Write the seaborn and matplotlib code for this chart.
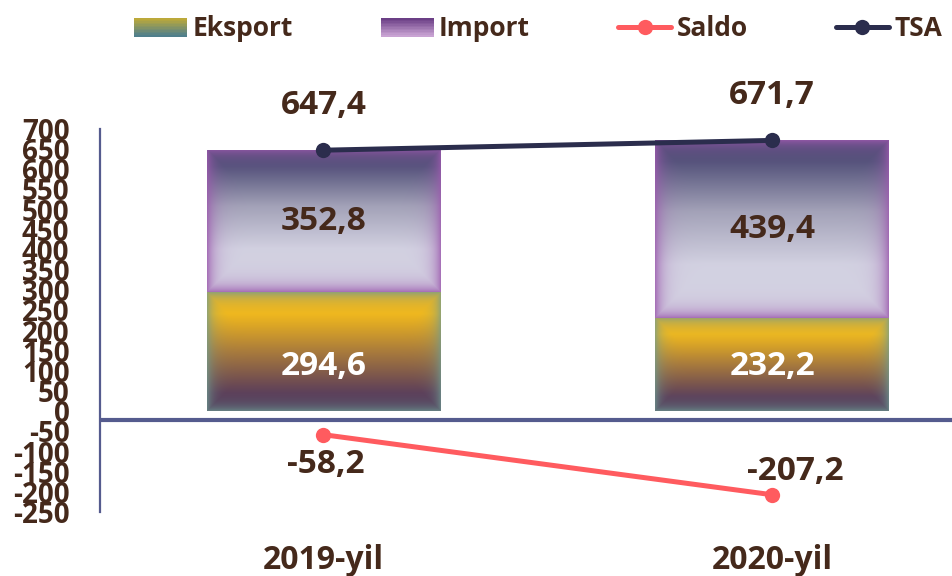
import numpy as np
import pandas as pd
import matplotlib
matplotlib.use("Agg")
import matplotlib.pyplot as plt
import matplotlib.colors as mcolors
from matplotlib.patches import Rectangle
from matplotlib.lines import Line2D
from matplotlib.legend_handler import HandlerBase
import seaborn as sns

# data
years = ["2019-yil", "2020-yil"]
eksport = [294.6, 232.2]
importv = [352.8, 439.4]
saldo = [-58.2, -207.2]
tsa = [647.4, 671.7]

TXT = "#45291B"
AXC = "#555B8E"

sns.set_style("white")
plt.rcParams["font.family"] = ["Open Sans", "DejaVu Sans"]
plt.rcParams["font.weight"] = "bold"
plt.rcParams["axes.unicode_minus"] = False


def to_rgb_arr(cols):
    return np.array([mcolors.to_rgb(c) for c in cols])


def grad_img(stops, edge, w_px, h_px, spread=7.0, strength=0.75):
    pos = np.array([s[0] for s in stops])
    cols = to_rgb_arr([s[1] for s in stops])
    t = np.linspace(0, 1, h_px)
    col = np.stack([np.interp(t, pos, cols[:, k]) for k in range(3)], axis=1)
    img = np.repeat(col[:, None, :], w_px, axis=1)
    yy, xx = np.indices((h_px, w_px))
    d = np.minimum.reduce([xx, w_px - 1 - xx, yy, h_px - 1 - yy]).astype(float)
    wgt = strength * np.exp(-d / spread)
    e = np.array(mcolors.to_rgb(edge))
    return img * (1 - wgt[..., None]) + e * wgt[..., None]


eks_stops = [(0.0, "#4E3458"), (0.15, "#5C3C58"), (0.5, "#A97B3C"),
             (0.82, "#F3B91B"), (1.0, "#EDB522")]
imp_stops = [(0.0, "#D6D5E4"), (0.3, "#D2D1E1"), (0.6, "#A3A2B8"),
             (0.88, "#53537A"), (1.0, "#48476E")]


class GradHandler(HandlerBase):
    def __init__(self, top, bottom):
        super().__init__()
        self.top, self.bottom = top, bottom

    def create_artists(self, legend, orig_handle, xdescent, ydescent,
                       width, height, fontsize, trans):
        n = 12
        c0 = np.array(mcolors.to_rgb(self.bottom))
        c1 = np.array(mcolors.to_rgb(self.top))
        arts = []
        for i in range(n):
            f = i / (n - 1)
            r = Rectangle((-xdescent, -ydescent + i * height / n), width,
                          height / n + 0.3, facecolor=c0 * (1 - f) + c1 * f,
                          edgecolor="none", transform=trans)
            arts.append(r)
        return arts


fig = plt.figure(figsize=(9.52, 5.76), dpi=100)
ax = fig.add_axes([100 / 952, 64 / 576, 852 / 952, 383 / 576])

df = pd.DataFrame({"year": years, "eksport": eksport, "import": importv,
                   "saldo": saldo, "tsa": tsa})

sns.barplot(data=df, x="year", y="eksport", width=0.52, color="#F3B91B", ax=ax)
sns.barplot(data=df, x="year", y="import", bottom=df["eksport"].values,
            width=0.52, color="#9B7BB0", ax=ax)

ax.set_xlim(-0.498, 1.401)
ax.set_ylim(-250, 700)
px_x = 852 / (1.401 + 0.498)
px_y = 383 / 950

n_eks = len(eksport)
for k, p in enumerate(ax.patches):
    x0, y0 = p.get_x(), p.get_y()
    w, h = p.get_width(), p.get_height()
    wp, hp = max(int(w * px_x), 2), max(int(h * px_y), 2)
    if k < n_eks:
        img = grad_img(eks_stops, "#6F9C92", wp, hp, spread=7, strength=0.7)
    else:
        img = grad_img(imp_stops, "#9C5AAE", wp, hp, spread=8, strength=0.8)
    im = ax.imshow(img, extent=[x0, x0 + w, y0, y0 + h], origin="lower",
                   aspect="auto", zorder=p.get_zorder() + 0.1,
                   interpolation="bilinear")
    im.set_clip_path(p)
ax.set_xlim(-0.498, 1.401)
ax.set_ylim(-250, 700)

xs = np.arange(len(years))
sns.lineplot(x=xs, y=saldo, color="#FF5B5F", linewidth=3.6, marker="o",
             markersize=11, markeredgewidth=0, ax=ax, zorder=5)
sns.lineplot(x=xs, y=tsa, color="#2B2D4D", linewidth=3.6, marker="o",
             markersize=11, markeredgewidth=0, ax=ax, zorder=5)

ax.axhline(-22, color=AXC, linewidth=3, zorder=4)

fmt = lambda v: f"{v:.1f}".replace(".", ",")
FS = 24
for i in xs:
    ax.text(i, 110, fmt(eksport[i]), ha="center", va="center", color="white",
            fontsize=FS, fontweight="bold", zorder=6)
    ax.text(i, eksport[i] + importv[i] / 2, fmt(importv[i]), ha="center",
            va="center", color=TXT, fontsize=FS, fontweight="bold", zorder=6)
    ax.annotate(fmt(tsa[i]), (i, tsa[i]), xytext=(0, 45),
                textcoords="offset pixels", ha="center", va="center",
                color=TXT, fontsize=FS, fontweight="bold")
saldo_off = [(2, -30), (23, 23)]
for i in xs:
    ax.annotate(fmt(saldo[i]), (i, saldo[i]), xytext=saldo_off[i],
                textcoords="offset pixels", ha="center", va="center",
                color=TXT, fontsize=FS, fontweight="bold")

ax.set_yticks(np.arange(-250, 701, 50))
ax.set_xticks(xs)
ax.set_xticklabels(years)
ax.tick_params(axis="y", length=0, pad=22, labelsize=20, labelcolor=TXT)
ax.tick_params(axis="x", length=0, pad=23, labelsize=23, labelcolor=TXT)
for lab in ax.get_yticklabels() + ax.get_xticklabels():
    lab.set_fontweight("bold")
ax.set_xlabel("")
ax.set_ylabel("")
for s in ["top", "right", "bottom"]:
    ax.spines[s].set_visible(False)
ax.spines["left"].set_color(AXC)
ax.spines["left"].set_linewidth(1.6)

handles = [Rectangle((0, 0), 1, 1), Rectangle((0, 0), 1, 1),
           Line2D([], [], color="#FF5B5F", lw=3.6, marker="o", markersize=11,
                  markeredgewidth=0),
           Line2D([], [], color="#2B2D4D", lw=3.6, marker="o", markersize=11,
                  markeredgewidth=0)]
leg = fig.legend(handles, ["Eksport", "Import", "Saldo", "TSA"], ncol=4,
                 loc="center", bbox_to_anchor=(538 / 952, 1 - 29 / 576),
                 frameon=False, fontsize=19, handlelength=2.0,
                 handletextpad=0.2, columnspacing=3.35, borderpad=0,
                 handler_map={handles[0]: GradHandler("#BCA93A", "#4F7F8C"),
                              handles[1]: GradHandler("#6B3F86", "#C9A3D3")})
for t in leg.get_texts():
    t.set_color(TXT)
    t.set_fontweight("bold")

fig.savefig("out.png", dpi=100)
